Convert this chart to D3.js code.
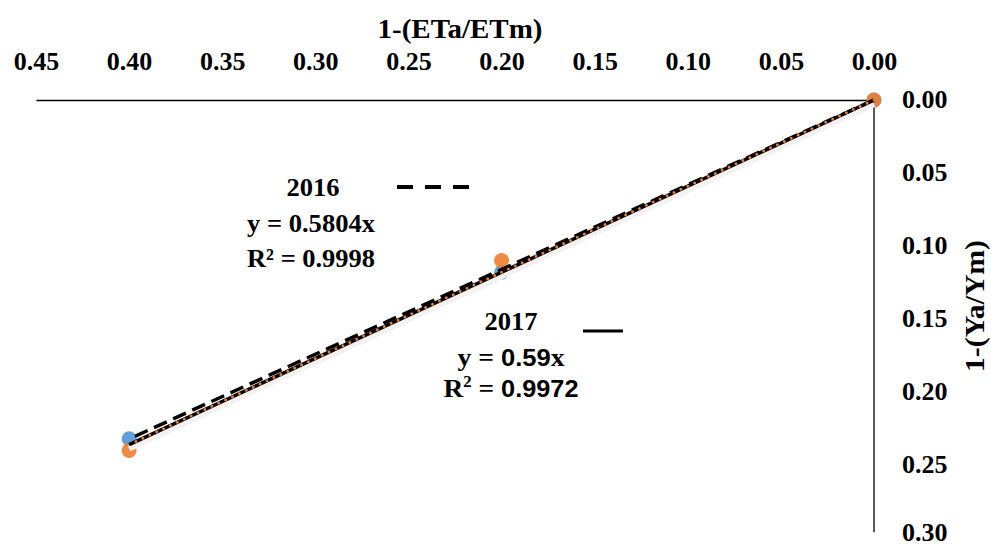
<!DOCTYPE html>
<html><head><meta charset="utf-8">
<script src="https://cdn.jsdelivr.net/npm/d3@7"></script>
<style>body{margin:0;background:#fff}svg{display:block}</style>
</head><body>
<svg id="c" width="991" height="547"></svg>
<script>
const xTicks = [0.45,0.40,0.35,0.30,0.25,0.20,0.15,0.10,0.05,0.00];
const yTicks = [0.00,0.05,0.10,0.15,0.20,0.25,0.30];
const etX = [0, 0.2, 0.4];
const y2016 = [0, 0.118, 0.232];
const y2017 = [0, 0.110, 0.240];
const slope2016 = 0.5804;
const slope2017 = 0.59;

const svg = d3.select("#c");
const x = d3.scaleLinear().domain([0.45, 0]).range([36, 874]);
const y = d3.scaleLinear().domain([0, 0.30]).range([100, 538]);
const serif = "'Liberation Serif', 'Times New Roman', serif";
const sans = "'Liberation Sans', Arial, sans-serif";

// axes
const xAxis = svg.append("g").attr("transform", `translate(0,${y(0)})`)
  .call(d3.axisTop(x).tickValues(xTicks).tickSize(0).tickPadding(30).tickFormat(d3.format(".2f")));
xAxis.select(".domain").attr("stroke", "#000").attr("stroke-width", 1.3);
xAxis.selectAll("text").attr("font-family", serif).attr("font-weight", "bold").attr("font-size", 26).attr("fill", "#000");

const yAxis = svg.append("g").attr("transform", `translate(${x(0)},0)`)
  .call(d3.axisRight(y).tickValues(yTicks).tickSize(0).tickPadding(28).tickFormat(d3.format(".2f")));
yAxis.select(".domain").attr("stroke", "#000").attr("stroke-width", 1.3).attr("d", `M0,${y(0)}V${y(0.296)}`);
yAxis.selectAll("text").attr("font-family", serif).attr("font-weight", "bold").attr("font-size", 26).attr("fill", "#000")
  .attr("dy", d => d === 0.30 ? "0.1em" : "0.3em");

// titles
svg.append("text").attr("x", 460).attr("y", 38).attr("text-anchor", "middle")
  .attr("font-family", serif).attr("font-weight", "bold").attr("font-size", 27)
  .attr("textLength", 165).attr("lengthAdjust", "spacingAndGlyphs").text("1-(ETa/ETm)");
svg.append("text").attr("transform", "translate(984,306) rotate(-90)").attr("text-anchor", "middle")
  .attr("font-family", serif).attr("font-weight", "bold").attr("font-size", 27)
  .attr("textLength", 132).attr("lengthAdjust", "spacingAndGlyphs").text("1-(Ya/Ym)");

// points
svg.append("g").selectAll("circle").data(etX.map((d,i)=>[d,y2016[i]])).join("circle")
  .attr("cx", d=>x(d[0])).attr("cy", d=>y(d[1])).attr("r", 7.5).attr("fill", "#5B9BD5").attr("opacity", 0.95);
svg.append("g").selectAll("circle").data(etX.map((d,i)=>[d,y2017[i]])).join("circle")
  .attr("cx", d=>x(d[0])).attr("cy", d=>y(d[1])).attr("r", 7.5).attr("fill", "#ED7D31").attr("opacity", 0.9);

// trendlines
const line = d3.line().x(d=>x(d[0])).y(d=>y(d[1]));
const ends = [0, 0.4];
svg.append("path").attr("d", line(ends.map(v=>[v, slope2017*v]))).attr("stroke", "#f2f2f2").attr("stroke-width", 6).attr("transform", "translate(0,4)").attr("fill", "none");
svg.append("path").attr("d", line(ends.map(v=>[v, slope2017*v]))).attr("stroke", "#000").attr("stroke-width", 3.5).attr("fill", "none");
svg.append("path").attr("d", line(ends.map(v=>[v, slope2016*v]))).attr("stroke", "#000").attr("stroke-width", 3.5).attr("stroke-dasharray", "14,7").attr("fill", "none");
svg.append("path").attr("d", line(etX.map((d,i)=>[d, slope2017*d]))).attr("stroke", "#ED7D31").attr("stroke-width", 3).attr("stroke-dasharray", "0,7.6").attr("stroke-linecap", "round").attr("fill", "none");

// annotations 2016
const a16 = svg.append("g").attr("font-family", serif).attr("font-weight", "bold").attr("font-size", 26).attr("text-anchor", "middle");
a16.append("text").attr("x", 313).attr("y", 196).attr("textLength", 53).attr("lengthAdjust", "spacingAndGlyphs").text("2016");
a16.append("text").attr("x", 311).attr("y", 232).attr("textLength", 128).attr("lengthAdjust", "spacingAndGlyphs").text("y = 0.5804x");
a16.append("text").attr("x", 311).attr("y", 267).attr("textLength", 128).attr("lengthAdjust", "spacingAndGlyphs").text("R² = 0.9998");
svg.append("line").attr("x1", 397).attr("x2", 469).attr("y1", 187).attr("y2", 187)
  .attr("stroke", "#000").attr("stroke-width", 4).attr("stroke-dasharray", "16,12");

// annotations 2017
const a17 = svg.append("g").attr("font-family", serif).attr("font-weight", "bold").attr("font-size", 26).attr("text-anchor", "middle");
a17.append("text").attr("x", 511).attr("y", 330).attr("textLength", 53).attr("lengthAdjust", "spacingAndGlyphs").text("2017");
const t2 = a17.append("text").attr("x", 511).attr("y", 366).attr("textLength", 107).attr("lengthAdjust", "spacingAndGlyphs");
t2.append("tspan").text("y = ");
t2.append("tspan").attr("font-family", sans).attr("font-size", 24).text("0.59");
t2.append("tspan").text("x");
const t3 = a17.append("text").attr("x", 511).attr("y", 397).attr("textLength", 135).attr("lengthAdjust", "spacingAndGlyphs");
t3.append("tspan").text("R");
t3.append("tspan").attr("font-size", 16).attr("dy", -10).text("2");
t3.append("tspan").attr("dy", 10).text(" = ");
t3.append("tspan").attr("font-family", sans).attr("font-size", 24).text("0.9972");
svg.append("line").attr("x1", 583).attr("x2", 623).attr("y1", 331).attr("y2", 331)
  .attr("stroke", "#000").attr("stroke-width", 3);
</script>
</body></html>
